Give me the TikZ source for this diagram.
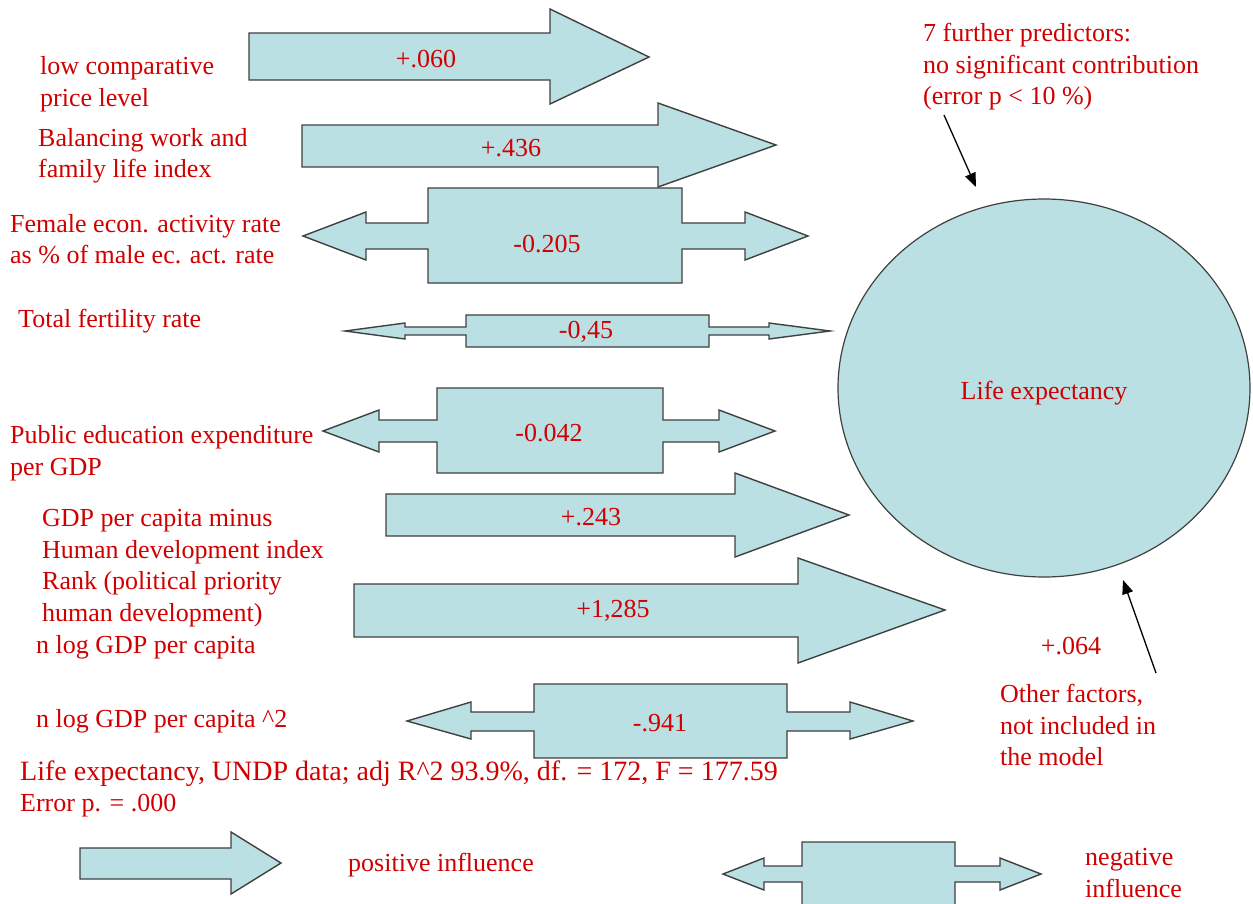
\documentclass[tikz,border=0pt]{standalone}
\usepackage{fontspec}
\setmainfont{Liberation Serif}
\usetikzlibrary{arrows.meta,shapes.geometric}
\definecolor{arrowfill}{RGB}{187,224,227}
\definecolor{edgegray}{RGB}{64,64,64}
\definecolor{labelred}{RGB}{208,0,0}
\tikzset{
  blockarrow/.style={fill=arrowfill,draw=edgegray,line width=1.4pt,line join=miter},
  txt/.style={text=labelred,font=\fontsize{26}{31.5}\selectfont,inner sep=0pt,align=left},
  val/.style={text=labelred,font=\fontsize{26}{31.5}\selectfont,inner sep=0pt},
  pointer/.style={draw=black,line width=1.3pt,-{Triangle[length=14pt,width=11pt]}}
}
\begin{document}
\begin{tikzpicture}[x=1pt,y=-1pt]
\useasboundingbox (0,0) rectangle (1253,903);
\clip (0,0) rectangle (1253,903);

% positive influences: single block arrows
\draw[blockarrow] (249,33) -- (550,33) -- (550,9) -- (649,57) -- (550,104) -- (550,80) -- (249,80) -- cycle;
\node[val] (v060) at (426,59) {+.060};

\draw[blockarrow] (302,125) -- (658,125) -- (658,103) -- (776,145) -- (658,187) -- (658,167) -- (302,167) -- cycle;
\node[val] (v436) at (511,148) {+.436};

% negative influences: double arrows with a central box
\draw[blockarrow] (303,236) -- (366,212) -- (366,223) -- (428,223) -- (428,188) -- (682,188) -- (682,223)
  -- (745,223) -- (745,212) -- (808,236) -- (745,260) -- (745,249) -- (682,249) -- (682,283)
  -- (428,283) -- (428,249) -- (366,249) -- (366,260) -- cycle;
\node[val] (v205) at (547,244) {-0.205};

\draw[blockarrow] (345,331) -- (405,323) -- (405,327) -- (466,327) -- (466,315) -- (709,315) -- (709,327)
  -- (769,327) -- (769,323) -- (830,331) -- (769,339) -- (769,335) -- (709,335) -- (709,347)
  -- (466,347) -- (466,335) -- (405,335) -- (405,339) -- cycle;
\node[val] (v45) at (586,332) {-0,45};

\draw[blockarrow] (323,431) -- (379,410) -- (379,420) -- (437,420) -- (437,388) -- (663,388) -- (663,420)
  -- (719,420) -- (719,410) -- (775,431) -- (719,452) -- (719,442) -- (663,442) -- (663,473)
  -- (437,473) -- (437,442) -- (379,442) -- (379,452) -- cycle;
\node[val] (v042) at (549,433) {-0.042};

\draw[blockarrow] (386,494) -- (735,494) -- (735,473) -- (849,515) -- (735,557) -- (735,536) -- (386,536) -- cycle;
\node[val] (v243) at (591,517) {+.243};

\draw[blockarrow] (354,584) -- (798,584) -- (798,558) -- (945,610) -- (798,663) -- (798,637) -- (354,637) -- cycle;
\node[val] (v1285) at (613,611) {+1,285};

\draw[blockarrow] (407,721) -- (471,702) -- (471,712) -- (534,712) -- (534,684) -- (787,684) -- (787,712)
  -- (850,712) -- (850,702) -- (913,721) -- (850,739) -- (850,731) -- (787,731) -- (787,758)
  -- (534,758) -- (534,731) -- (471,731) -- (471,739) -- cycle;
\node[val] (v941) at (660,723) {-.941};

% legend
\draw[blockarrow] (80,848) -- (231,848) -- (231,832) -- (281,863) -- (231,894) -- (231,879) -- (80,879) -- cycle;
\node[val] (poslab) at (441,865) {positive influence};

\draw[blockarrow] (723,874) -- (764,858) -- (764,866) -- (802,866) -- (802,842) -- (955,842) -- (955,866)
  -- (1000,866) -- (1000,858) -- (1041,874) -- (1000,890) -- (1000,882) -- (955,882) -- (955,930)
  -- (802,930) -- (802,882) -- (764,882) -- (764,890) -- cycle;
\node[txt,anchor=west] (neglab) at (1085,873) {negative\\influence};

% dependent variable
\node[ellipse,fill=arrowfill,draw=edgegray,line width=1.2pt,minimum width=412pt,minimum height=378pt,
  inner sep=0pt,text height=28pt,text depth=6pt,text=labelred,font=\fontsize{26}{31.5}\selectfont]
  (life) at (1044,388) {Life expectancy};

% predictor labels
\node[txt,anchor=west] (price) at (40,84) {low comparative\\price level};
\node[txt,anchor=west] (balance) at (38,156) {Balancing work and\\family life index};
\node[txt,anchor=west] (female) at (10,239) {Female econ. activity rate\\as \% of male ec. act. rate};
\node[txt,anchor=west] (tfr) at (18,321) {Total fertility rate};
\node[txt,anchor=west] (educ) at (10,453) {Public education expenditure\\per GDP};
\node[txt,anchor=west] (hdi) at (42,568) {GDP per capita minus\\Human development index\\Rank (political priority\\human development)};
\node[txt,anchor=west] (lngdp) at (36,647) {n log GDP per capita};
\node[txt,anchor=west] (lngdpsq) at (36,721) {n log GDP per capita \textasciicircum 2};
\node[txt,anchor=west] (stats) at (20,789) {{\fontsize{28}{31.5}\selectfont Life expectancy, UNDP data; adj R\textasciicircum 2 93.9\%, df. = 172, F = 177.59}\\Error p. = .000};

% side notes
\node[txt,anchor=west] (further) at (923,67) {7 further predictors:\\no significant contribution\\(error p < 10 \%)};
\coordinate (furthertail) at (944,115);
\coordinate (furthertip) at (976,187);
\draw[pointer] (furthertail) -- (furthertip);

\node[val] (v064) at (1071,646) {+.064};
\node[txt,anchor=west] (other) at (1000,725) {Other factors,\\not included in\\the model};
\coordinate (othertail) at (1156,673);
\coordinate (othertip) at (1123,580);
\draw[pointer] (othertail) -- (othertip);
\end{tikzpicture}
\end{document}
